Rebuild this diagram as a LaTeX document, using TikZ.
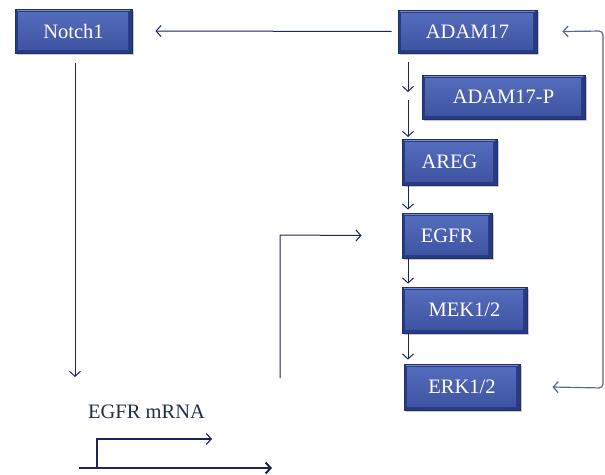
\documentclass[tikz,border=0pt]{standalone}
\usepackage{fontspec}
\setmainfont{Liberation Serif}
\usetikzlibrary{arrows.meta,shadows}
\definecolor{boxtop}{RGB}{86,110,190}
\definecolor{boxbot}{RGB}{60,82,160}
\definecolor{boxfill}{RGB}{40,58,128}
\definecolor{boxhi}{RGB}{120,140,205}
\definecolor{boxedge}{RGB}{32,48,110}
\definecolor{ink}{RGB}{28,36,88}
\definecolor{fbline}{RGB}{92,102,145}
\definecolor{txt}{RGB}{35,45,70}
\tikzset{
  gbox/.style={rectangle, fill=boxfill, draw=boxedge, line width=0.8pt,
    text=white, font=\fontsize{20.5}{24}\selectfont, inner sep=0pt,
    drop shadow={shadow xshift=2pt, shadow yshift=-2pt, opacity=0.35, fill=black!60},
    path picture={
      \shade[top color=boxtop, bottom color=boxbot]
        ([shift={(3pt,-3pt)}]path picture bounding box.north west) rectangle
        ([shift={(-4pt,4pt)}]path picture bounding box.south east);
      \draw[boxhi, line width=1pt]
        ([shift={(2pt,-1.5pt)}]path picture bounding box.north west) --
        ([shift={(-2pt,-1.5pt)}]path picture bounding box.north east);
    }},
  arr/.style={draw=ink, line width=1pt, -{Straight Barb[length=5pt,width=11pt]}},
  fb/.style={draw=fbline, line width=1.2pt, rounded corners=4pt,
    {Straight Barb[length=5pt,width=11pt]}-{Straight Barb[length=5pt,width=11pt]}},
  label/.style={text=txt, font=\fontsize{20.5}{24}\selectfont, inner sep=0pt},
}
\begin{document}
\begin{tikzpicture}[x=1pt,y=-1pt]
\useasboundingbox (0,0) rectangle (605,474);
% boxes
\node[gbox, minimum width=117pt, minimum height=44pt] (notch) at (73.5,31) {Notch1};
\node[gbox, minimum width=139pt, minimum height=43pt] (adam) at (467.5,31.5) {ADAM17};
\node[gbox, minimum width=163pt, minimum height=44pt] (adamp) at (503.5,97) {ADAM17-P};
\node[gbox, minimum width=95pt, minimum height=46pt] (areg) at (449.5,162) {AREG};
\node[gbox, minimum width=90pt, minimum height=45pt] (egfr) at (447,235.5) {EGFR};
\node[gbox, minimum width=125pt, minimum height=46pt] (mek) at (464.5,310) {MEK1/2};
\node[gbox, minimum width=116pt, minimum height=46pt] (erk) at (462,387) {ERK1/2};
\node[label] (mrna) at (146.5,412) {EGFR mRNA};
% free-end coordinates
\coordinate (p1s) at (408,62);
\coordinate (p1e) at (408,92);
\coordinate (p2s) at (408,100);
\coordinate (p2e) at (408,137);
\coordinate (nd) at (75,377);
\coordinate (ms) at (280,378);
\coordinate (mc) at (280,235);
\coordinate (fbr) at (603,388);
\coordinate (fbt) at (603,31);
\coordinate (bl) at (79,468);
\coordinate (br) at (272,468);
\coordinate (ps) at (97,468);
\coordinate (pc) at (97,439);
\coordinate (pe) at (212,439);
% connectors
\draw[arr] ([xshift=-6pt]adam.west) -- ([xshift=23pt]notch.east);
\draw[arr] (p1s) -- (p1e);
\draw[arr] (p2s) -- (p2e);
\draw[arr] (areg.south -| p1s) -- ([yshift=3pt]egfr.north -| p1s);
\draw[arr] (egfr.south -| p1s) -- ([yshift=3pt]mek.north -| p1s);
\draw[arr] (mek.south -| p1s) -- ([yshift=4pt]erk.north -| p1s);
\draw[arr] ([yshift=-10pt]notch.south -| nd) -- (nd);
\draw[arr] (ms) -- (mc) -- ([xshift=-40pt]egfr.west);
\draw[fb] ([xshift=32pt]erk.east) -- (fbr) -- (fbt) -- ([xshift=25pt]adam.east);
\draw[arr, line width=2pt] (bl) -- (br);
\draw[arr, line width=1.1pt] (ps) -- (pc) -- (pe);
\end{tikzpicture}
\end{document}
